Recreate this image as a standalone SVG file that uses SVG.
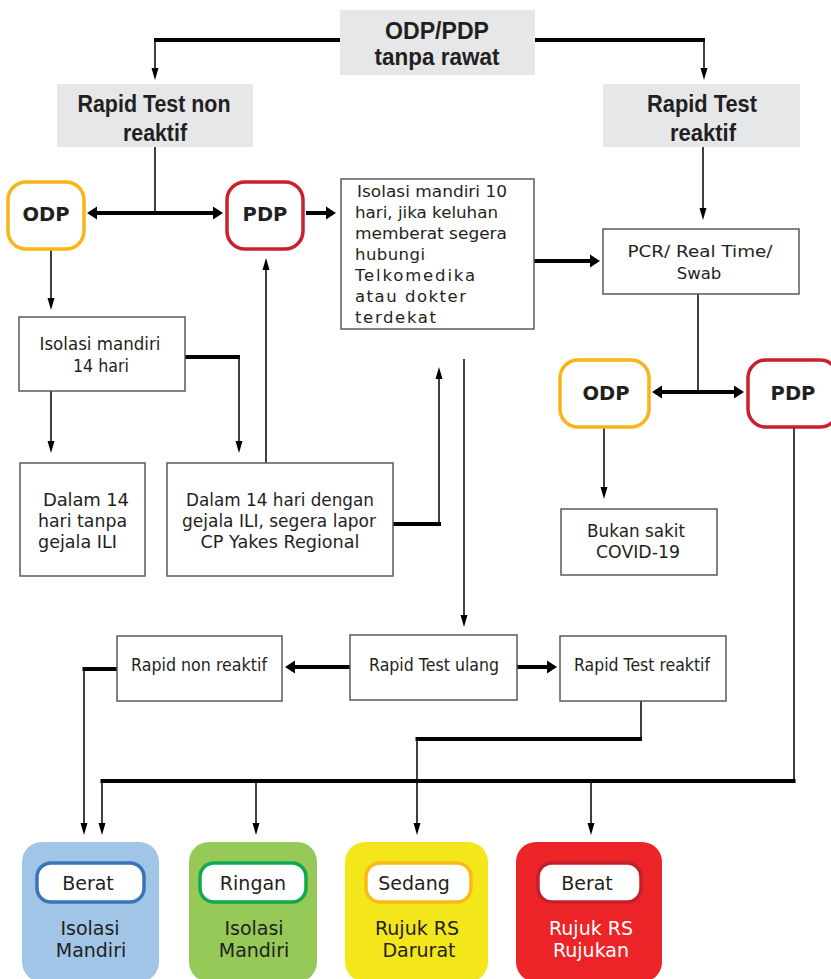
<svg xmlns="http://www.w3.org/2000/svg" width="831" height="979" viewBox="0 0 831 979">
<style>
.bx{fill:#fff;stroke:#595959;stroke-width:1.5}
.gr{fill:#e6e7e8}
.t{font-family:"DejaVu Sans",Verdana,sans-serif;font-size:16.5px;fill:#231f20}
.c{font-size:18px}
.tc{text-anchor:middle}
.hb{font-family:"Liberation Sans",Arial,sans-serif;font-weight:bold;font-size:23.5px;fill:#231f20;text-anchor:middle}
.nb{font-family:"DejaVu Sans",Verdana,sans-serif;font-weight:bold;font-size:19.5px;fill:#231f20;text-anchor:middle}
.bt{font-family:"DejaVu Sans",Verdana,sans-serif;font-size:19px;fill:#231f20;text-anchor:middle}
.w{fill:#fff}
.tk{fill:none;stroke:#000;stroke-width:4}
.tn{fill:none;stroke:#000;stroke-width:1.5}
</style>
<defs>
<marker id="ah" markerUnits="userSpaceOnUse" markerWidth="13" markerHeight="8" refX="0" refY="4" orient="auto"><path d="M0,0.5 L12,4 L0,7.5 z" fill="#000"/></marker>
<marker id="aH" markerUnits="userSpaceOnUse" markerWidth="11" markerHeight="14" refX="0" refY="7" orient="auto-start-reverse"><path d="M0,0.5 L10,7 L0,13.5 z" fill="#000"/></marker>
</defs>

<g id="connectors">
<path class="tk" d="M340,40 H154"/>
<path class="tn" d="M155,40 V68" marker-end="url(#ah)"/>
<path class="tk" d="M535,40 H705"/>
<path class="tn" d="M704,40 V68" marker-end="url(#ah)"/>
<path class="tn" d="M155,147 V213"/>
<path class="tk" d="M97,213 H213" marker-start="url(#aH)" marker-end="url(#aH)"/>
<path class="tk" d="M306,213 H326" marker-end="url(#aH)"/>
<path class="tn" d="M51,249 V298" marker-end="url(#ah)"/>
<path class="tk" d="M185,357 H240"/>
<path class="tn" d="M239,357 V441" marker-end="url(#ah)"/>
<path class="tn" d="M51,391 V441" marker-end="url(#ah)"/>
<path class="tn" d="M266,463 V270" marker-end="url(#ah)"/>
<path class="tk" d="M393,524 H441"/>
<path class="tn" d="M439,526 V379" marker-end="url(#ah)"/>
<path class="tn" d="M464,359 V615" marker-end="url(#ah)"/>
<path class="tk" d="M534,261 H590" marker-end="url(#aH)"/>
<path class="tn" d="M703,147 V208" marker-end="url(#ah)"/>
<path class="tn" d="M698,294 V392"/>
<path class="tk" d="M662,392 H734" marker-start="url(#aH)" marker-end="url(#aH)"/>
<path class="tn" d="M604,427 V487" marker-end="url(#ah)"/>
<path class="tn" d="M794,427 V781"/>
<path class="tk" d="M795.5,781 H100.5"/>
<path class="tn" d="M102,781 V823" marker-end="url(#ah)"/>
<path class="tn" d="M256,781 V823" marker-end="url(#ah)"/>
<path class="tn" d="M591,781 V823" marker-end="url(#ah)"/>
<path class="tk" d="M350,667 H295" marker-end="url(#aH)"/>
<path class="tk" d="M517,667 H547" marker-end="url(#aH)"/>
<path class="tk" d="M117,669 H82.5"/>
<path class="tn" d="M84,669 V823" marker-end="url(#ah)"/>
<path class="tn" d="M641,701 V739"/>
<path class="tk" d="M642,739 H415.5"/>
<path class="tn" d="M417,739 V823" marker-end="url(#ah)"/>
</g>

<g id="n-top">
<rect class="gr" x="340" y="10" width="195" height="65"/>
<text class="hb" x="437" y="39" textLength="104" lengthAdjust="spacingAndGlyphs">ODP/PDP</text>
<text class="hb" x="437" y="65" textLength="125" lengthAdjust="spacingAndGlyphs">tanpa rawat</text>
</g>
<g id="n-rapid-non">
<rect class="gr" x="57" y="84" width="196" height="63"/>
<text class="hb" x="154" y="112" textLength="153" lengthAdjust="spacingAndGlyphs">Rapid Test non</text>
<text class="hb" x="155" y="141" textLength="64" lengthAdjust="spacingAndGlyphs">reaktif</text>
</g>
<g id="n-rapid-reaktif">
<rect class="gr" x="603" y="84" width="197" height="63"/>
<text class="hb" x="702" y="112" textLength="110" lengthAdjust="spacingAndGlyphs">Rapid Test</text>
<text class="hb" x="703" y="141" textLength="66" lengthAdjust="spacingAndGlyphs">reaktif</text>
</g>
<g id="n-odp1">
<rect x="8" y="182" width="76" height="67" rx="18" fill="#fff" stroke="#fbb415" stroke-width="3.5"/>
<text class="nb" x="46" y="221">ODP</text>
</g>
<g id="n-pdp1">
<rect x="227" y="182" width="76" height="67" rx="18" fill="#fff" stroke="#c8202f" stroke-width="3.5"/>
<text class="nb" x="265" y="221">PDP</text>
</g>
<g id="n-iso10">
<rect class="bx" x="341" y="179" width="193" height="150"/>
<text class="t" x="357" y="197" textLength="150" lengthAdjust="spacingAndGlyphs">Isolasi mandiri 10</text>
<text class="t" x="355" y="218" textLength="143" lengthAdjust="spacingAndGlyphs">hari, jika keluhan</text>
<text class="t" x="355" y="239" textLength="152" lengthAdjust="spacingAndGlyphs">memberat segera</text>
<text class="t" x="355" y="260" textLength="70" lengthAdjust="spacing">hubungi</text>
<text class="t" x="355" y="281" textLength="120" lengthAdjust="spacing">Telkomedika</text>
<text class="t" x="355" y="302" textLength="111" lengthAdjust="spacing">atau dokter</text>
<text class="t" x="355" y="323" textLength="81" lengthAdjust="spacing">terdekat</text>
</g>
<g id="n-iso14">
<rect class="bx" x="19" y="317" width="166" height="74"/>
<text class="t c tc" x="100" y="350" textLength="121" lengthAdjust="spacingAndGlyphs">Isolasi mandiri</text>
<text class="t c tc" x="101" y="372" textLength="56" lengthAdjust="spacingAndGlyphs">14 hari</text>
</g>
<g id="n-dalam1">
<rect class="bx" x="20" y="463" width="125" height="113"/>
<text class="t c" x="43" y="506" textLength="86" lengthAdjust="spacing">Dalam  14</text>
<text class="t c" x="38" y="527" textLength="89" lengthAdjust="spacingAndGlyphs">hari tanpa</text>
<text class="t c" x="38" y="548" textLength="79" lengthAdjust="spacingAndGlyphs">gejala ILI</text>
</g>
<g id="n-dalam2">
<rect class="bx" x="167" y="463" width="226" height="113"/>
<text class="t c tc" x="280" y="506" textLength="188" lengthAdjust="spacingAndGlyphs">Dalam 14 hari dengan</text>
<text class="t c tc" x="279" y="527" textLength="194" lengthAdjust="spacingAndGlyphs">gejala ILI, segera lapor</text>
<text class="t c tc" x="280" y="548" textLength="159" lengthAdjust="spacingAndGlyphs">CP Yakes Regional</text>
</g>
<g id="n-pcr">
<rect class="bx" x="603" y="229" width="196" height="65"/>
<text class="t tc" x="700" y="257" textLength="145" lengthAdjust="spacingAndGlyphs">PCR/  Real Time/</text>
<text class="t tc" x="699" y="279">Swab</text>
</g>
<g id="n-odp2">
<rect x="560" y="360" width="89" height="67" rx="18" fill="#fff" stroke="#fbb415" stroke-width="3.5"/>
<text class="nb" x="606" y="400">ODP</text>
</g>
<g id="n-pdp2">
<rect x="748" y="360" width="90" height="67" rx="18" fill="#fff" stroke="#c8202f" stroke-width="3.5"/>
<text class="nb" x="793" y="400">PDP</text>
</g>
<g id="n-bukan">
<rect class="bx" x="561" y="509" width="156" height="66"/>
<text class="t c tc" x="636" y="537" textLength="98" lengthAdjust="spacingAndGlyphs">Bukan sakit</text>
<text class="t c tc" x="638" y="558" textLength="84" lengthAdjust="spacingAndGlyphs">COVID-19</text>
</g>
<g id="n-rapid-non-reaktif">
<rect class="bx" x="117" y="636" width="165" height="65"/>
<text class="t c tc" x="199" y="671" textLength="136" lengthAdjust="spacingAndGlyphs">Rapid non reaktif</text>
</g>
<g id="n-rapid-ulang">
<rect class="bx" x="350" y="635" width="167" height="65"/>
<text class="t c tc" x="434" y="671" textLength="130" lengthAdjust="spacingAndGlyphs">Rapid Test ulang</text>
</g>
<g id="n-rapid-test-reaktif">
<rect class="bx" x="560" y="636" width="166" height="65"/>
<text class="t c tc" x="642" y="671" textLength="136" lengthAdjust="spacingAndGlyphs">Rapid Test reaktif</text>
</g>

<g id="n-berat-isolasi">
<rect x="22" y="842" width="137" height="140" rx="20" fill="#a1c5e6"/>
<rect x="37" y="863" width="107" height="39" rx="14" fill="#fff" stroke="#3a73b9" stroke-width="3.5"/>
<text class="bt" x="88" y="890">Berat</text>
<text class="bt" x="90" y="935">Isolasi</text>
<text class="bt" x="91" y="957">Mandiri</text>
</g>
<g id="n-ringan">
<rect x="189" y="842" width="128" height="140" rx="20" fill="#96c957"/>
<rect x="200" y="863" width="106" height="39" rx="14" fill="#fff" stroke="#10a94d" stroke-width="3.5"/>
<text class="bt" x="253" y="890">Ringan</text>
<text class="bt" x="254" y="935">Isolasi</text>
<text class="bt" x="254" y="957">Mandiri</text>
</g>
<g id="n-sedang">
<rect x="345" y="842" width="143" height="140" rx="20" fill="#f3e71c"/>
<rect x="366" y="863" width="105" height="39" rx="14" fill="#fff" stroke="#fbb817" stroke-width="3.5"/>
<text class="bt" x="414" y="890">Sedang</text>
<text class="bt" x="417" y="935">Rujuk RS</text>
<text class="bt" x="419" y="957">Darurat</text>
</g>
<g id="n-berat-rujukan">
<rect x="516" y="842" width="146" height="140" rx="20" fill="#ec2427"/>
<rect x="538" y="863" width="103" height="39" rx="14" fill="#fff" stroke="#c4202b" stroke-width="3.5"/>
<text class="bt" x="587" y="890">Berat</text>
<text class="bt w" x="591" y="935">Rujuk RS</text>
<text class="bt w" x="591" y="957">Rujukan</text>
</g>
</svg>
